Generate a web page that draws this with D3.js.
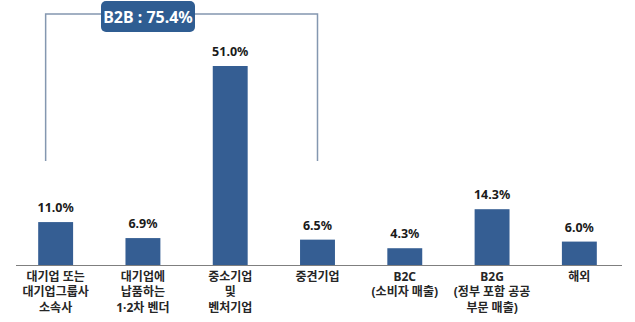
<!DOCTYPE html>
<html><head><meta charset="utf-8">
<script src="https://cdn.jsdelivr.net/npm/d3@7"></script>
<style>body{margin:0;background:#fff}svg{display:block}</style>
</head><body>
<script>
const categories = [
  ["대기업 또는","대기업그룹사","소속사"],
  ["대기업에","납품하는","1·2차 벤더"],
  ["중소기업","및","벤처기업"],
  ["중견기업"],
  ["B2C","(소비자 매출)"],
  ["B2G","(정부 포함 공공","부문 매출)"],
  ["해외"]
];
const values = [11.0, 6.9, 51.0, 6.5, 4.3, 14.3, 6.0];
const valueLabels = ["11.0%","6.9%","51.0%","6.5%","4.3%","14.3%","6.0%"];
const bracketLabel = "B2B : 75.4%";
const bracketRange = [0, 3];

const W = 635, H = 322;
const font = "'Noto Sans','Noto Sans CJK KR',sans-serif";
const svg = d3.select("body").append("svg").attr("width", W).attr("height", H);

const x = d3.scaleBand().domain(d3.range(values.length)).range([12, 623]).paddingInner(0.6).paddingOuter(0.3);
const y = d3.scaleLinear().domain([0, 51]).range([265, 66]);

svg.selectAll("rect.bar").data(values).enter().append("rect")
  .attr("class","bar")
  .attr("x",(d,i)=>x(i)).attr("width",x.bandwidth())
  .attr("y",d=>y(d)).attr("height",d=>y(0)-y(d))
  .attr("fill","#355e93");

svg.append("line").attr("x1",16).attr("x2",622).attr("y1",y(0)+0.5).attr("y2",y(0)+0.5)
  .attr("stroke","#7f7f7f").attr("stroke-width",1.2);

svg.selectAll("text.val").data(values).enter().append("text")
  .attr("class","val")
  .attr("x",(d,i)=>x(i)+x.bandwidth()/2).attr("y",d=>y(d)-10)
  .attr("text-anchor","middle").attr("font-family",font).attr("font-weight","bold")
  .attr("font-size",12.5).attr("fill","#1a1a1a")
  .text((d,i)=>valueLabels[i]);

const cg = svg.selectAll("text.cat").data(categories).enter().append("text")
  .attr("class","cat")
  .attr("text-anchor","middle").attr("font-family",font).attr("font-weight","bold")
  .attr("font-size",12).attr("fill","#262626");
cg.each(function(lines,i){
  d3.select(this).selectAll("tspan").data(lines).enter().append("tspan")
    .attr("x",x(i)+x.bandwidth()/2).attr("y",(l,j)=>281+j*15.3).text(l=>l);
});

// bracket over B2B categories
const bx1 = x(bracketRange[0]) + x.bandwidth()/2 - 10;
const bx2 = x(bracketRange[1]) + x.bandwidth()/2;
const by = 14, byEnd = 161;
svg.append("path").attr("d",`M${bx1},${byEnd}V${by}H${bx2}V${byEnd}`)
  .attr("fill","none").attr("stroke","#8497b0").attr("stroke-width",1.5);
svg.append("rect").attr("x",101).attr("y",1).attr("width",94).attr("height",31).attr("rx",5)
  .attr("fill","#2f5d92");
svg.append("text").attr("x",148).attr("y",22.5).attr("text-anchor","middle")
  .attr("font-family",font).attr("font-weight","bold").attr("font-size",16).attr("fill","#fff")
  .text(bracketLabel);
</script>
</body></html>
